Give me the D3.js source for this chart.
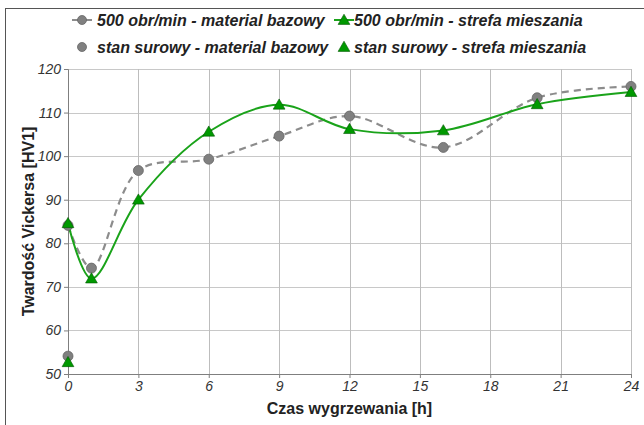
<!DOCTYPE html>
<meta charset="utf-8">
<style>
  body { margin: 0; background: #fff; }
  text { font-family: "Liberation Sans", Arial, sans-serif; }
</style>
<svg id="chart" width="644" height="425"></svg>
<script src="https://d3js.org/d3.v7.min.js"></script>
<script>

// hours of annealing
var hours = [0, 1, 3, 6, 9, 12, 16, 20, 24];
// 500 obr/min - material bazowy
var baseValues = [84.1, 74.3, 96.7, 99.3, 104.6, 109.2, 102.0, 113.4, 116.0];
// 500 obr/min - strefa mieszania
var stirValues = [84.6, 71.9, 90.0, 105.6, 111.8, 106.2, 105.9, 111.9, 114.7];
// stan surowy (raw state), both at t = 0
var rawBase = [{ x: 0, y: 54.1 }];
var rawStir = [{ x: 0, y: 52.7 }];

var xTicks = [0, 3, 6, 9, 12, 15, 18, 21, 24];
var yTicks = [50, 60, 70, 80, 90, 100, 110, 120];

var legendLabels = [
	"500 obr/min - material bazowy",
	"500 obr/min - strefa mieszania",
	"stan surowy - material bazowy",
	"stan surowy - strefa mieszania"
];

var svg = d3.select("svg#chart"),
	margin = { top: 69, right: 13, bottom: 51, left: 68 },
	width = 644 - margin.left - margin.right,
	height = 425 - margin.top - margin.bottom;

var grey = "#808080", green = "#009900", greenLine = "#1aa31a";

// outer frame
svg.append("rect")
	.attr("x", 5.5).attr("y", 8.5)
	.attr("width", 700).attr("height", 500)
	.attr("fill", "none")
	.attr("stroke", "#555")
	.attr("stroke-width", 1);

var g = svg.append("g")
	.attr("transform", "translate(" + margin.left + "," + margin.top + ")");

var x = d3.scaleLinear().domain([0, 24]).range([0, width]);
var y = d3.scaleLinear().domain([50, 120]).range([height, 0]);

// grid
g.append("g").selectAll("line")
	.data(yTicks.slice(1))
	.enter().append("line")
		.attr("x1", 0).attr("x2", width)
		.attr("y1", function(d) { return Math.round(y(d)) + 0.5; })
		.attr("y2", function(d) { return Math.round(y(d)) + 0.5; })
		.attr("stroke", "#c8c8c8");

g.append("g").selectAll("line")
	.data(xTicks.slice(1))
	.enter().append("line")
		.attr("y1", 0).attr("y2", height)
		.attr("x1", function(d) { return Math.round(x(d)) + 0.5; })
		.attr("x2", function(d) { return Math.round(x(d)) + 0.5; })
		.attr("stroke", "#bdbdbd");

// axes
var xAxis = g.append("g")
	.attr("transform", "translate(0," + height + ")")
	.call(d3.axisBottom(x).tickValues(xTicks).tickSize(4).tickPadding(3));
var yAxis = g.append("g")
	.call(d3.axisLeft(y).tickValues(yTicks).tickSize(4).tickPadding(3));

[xAxis, yAxis].forEach(function(a) {
	a.select(".domain").attr("stroke", "#7f7f7f");
	a.selectAll(".tick line").attr("stroke", "#7f7f7f");
	a.selectAll("text")
		.attr("fill", "#333")
		.style("font-size", "14px")
		.style("font-style", "italic")
		.style("font-family", "'Liberation Sans', Arial, sans-serif");
});

// axis titles
svg.append("text")
	.attr("transform", "translate(34," + (margin.top + height / 2) + ") rotate(-90)")
	.attr("text-anchor", "middle")
	.style("font-size", "16px")
	.style("font-weight", "bold")
	.attr("fill", "#222")
	.text("Twardość Vickersa [HV1]");

svg.append("text")
	.attr("x", margin.left + width / 2)
	.attr("y", 414)
	.attr("text-anchor", "middle")
	.style("font-size", "16px")
	.style("font-weight", "bold")
	.attr("fill", "#222")
	.text("Czas wygrzewania [h]");

// series
var basePts = hours.map(function(h, i) { return { x: h, y: baseValues[i] }; });
var stirPts = hours.map(function(h, i) { return { x: h, y: stirValues[i] }; });

var line = d3.line()
	.x(function(d) { return x(d.x); })
	.y(function(d) { return y(d.y); })
	.curve(d3.curveCatmullRom.alpha(0.5));

g.append("path")
	.attr("d", line(basePts))
	.attr("fill", "none")
	.attr("stroke", "#8c8c8c")
	.attr("stroke-width", 2.2)
	.attr("stroke-dasharray", "7,5");

g.append("path")
	.attr("d", line(stirPts))
	.attr("fill", "none")
	.attr("stroke", greenLine)
	.attr("stroke-width", 2);

var tri = d3.symbol().type(d3.symbolTriangle).size(60);

function circles(sel, pts) {
	sel.selectAll("circle").data(pts).enter().append("circle")
		.attr("cx", function(d) { return x(d.x); })
		.attr("cy", function(d) { return y(d.y); })
		.attr("r", 5)
		.attr("fill", grey)
		.attr("stroke", "#666")
		.attr("stroke-width", 0.8);
}
function triangles(sel, pts) {
	sel.selectAll("path").data(pts).enter().append("path")
		.attr("d", tri)
		.attr("transform", function(d) { return "translate(" + x(d.x) + "," + (y(d.y) + 1) + ")"; })
		.attr("fill", green)
		.attr("stroke", "#005500")
		.attr("stroke-width", 0.6);
}

circles(g.append("g"), basePts);
circles(g.append("g"), rawBase);
triangles(g.append("g"), stirPts);
triangles(g.append("g"), rawStir);

// legend
var legend = svg.append("g");
var legendItems = [
	{ mx: 82, ty: 20, text: legendLabels[0], kind: "circle", line: true },
	{ mx: 344, ty: 20, text: legendLabels[1], kind: "tri", line: true },
	{ mx: 82, ty: 47, text: legendLabels[2], kind: "circle", line: false },
	{ mx: 344, ty: 47, text: legendLabels[3], kind: "tri", line: false }
];
legendItems.forEach(function(it) {
	var item = legend.append("g");
	if (it.line) {
		item.append("line")
			.attr("x1", it.mx - 10).attr("x2", it.mx + 10)
			.attr("y1", it.ty).attr("y2", it.ty)
			.attr("stroke", it.kind === "circle" ? "#8c8c8c" : greenLine)
			.attr("stroke-width", 2);
	}
	if (it.kind === "circle") {
		item.append("circle").attr("cx", it.mx).attr("cy", it.ty).attr("r", 4.5)
			.attr("fill", grey).attr("stroke", "#666").attr("stroke-width", 0.8);
	} else {
		item.append("path").attr("d", tri)
			.attr("transform", "translate(" + it.mx + "," + (it.ty + 1) + ")")
			.attr("fill", green).attr("stroke", "#005500").attr("stroke-width", 0.6);
	}
	item.append("text")
		.attr("x", it.kind === "circle" ? 97 : 354)
		.attr("y", it.ty + 6)
		.style("font-size", "16px")
		.style("font-weight", "bold")
		.style("font-style", "italic")
		.attr("fill", "#222")
		.text(it.text);
});

</script>
